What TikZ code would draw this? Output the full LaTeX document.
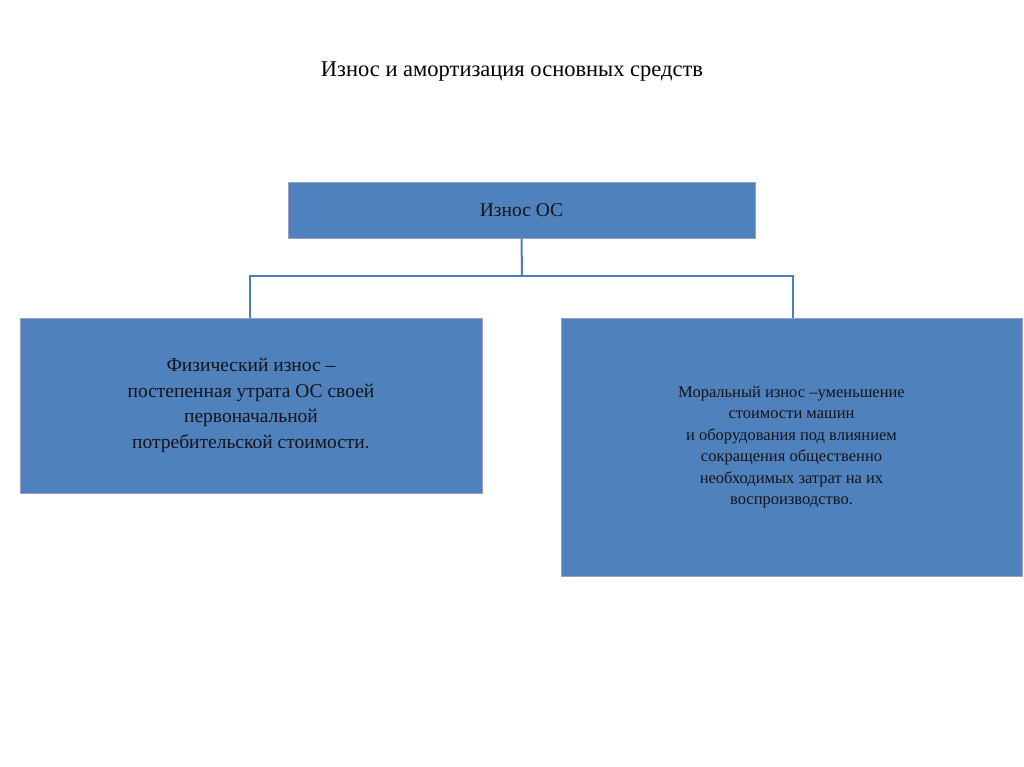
\documentclass[tikz,border=0pt]{standalone}
\usepackage{fontspec}
\setmainfont{Liberation Serif}
\begin{document}
\begin{tikzpicture}[x=1pt,y=-1pt,
  box/.style={draw=blue!30!gray!60, line width=1pt, fill={rgb,255:red,79;green,129;blue,189}, text={rgb,255:red,20;green,20;blue,25}, align=center, inner sep=0pt},
  conn/.style={draw={rgb,255:red,74;green,126;blue,187}, line width=2pt}]
\useasboundingbox[fill=white] (0,0) rectangle (1024,767);
\node[font=\fontsize{22.5}{27}\selectfont] (title) at (512,72) {Износ и амортизация основных средств};
\node[box, minimum width=467, minimum height=55, font=\fontsize{19.5}{23}\selectfont] (top) at (521.5,210.5) {Износ ОС};
\node[box, minimum width=462, minimum height=175, font=\fontsize{19.5}{25.5}\selectfont] (left) at (251,405.5) {Физический износ --\\постепенная утрата ОС своей\\первоначальной\\потребительской стоимости.};
\node[box, minimum width=461, minimum height=258, font=\fontsize{16.5}{21.5}\selectfont] (right) at (791.5,447) {Моральный износ --уменьшение\\стоимости машин\\и оборудования под влиянием\\сокращения общественно\\необходимых затрат на их\\воспроизводство.};
\coordinate (j) at (522,276);
\draw[conn] (top.south) -- (j);
\draw[conn] (250,318) |- (j) -| (793,318);
\end{tikzpicture}
\end{document}
